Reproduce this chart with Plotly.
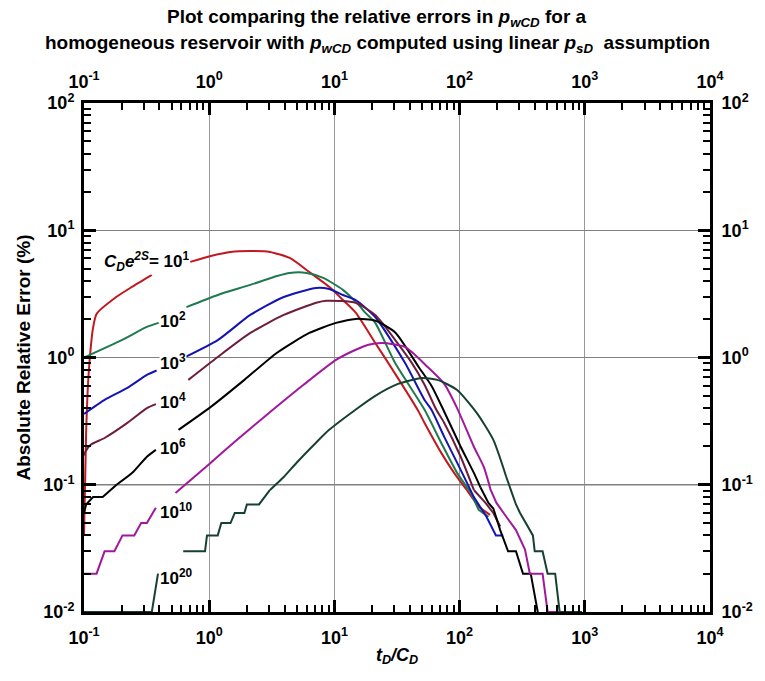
import plotly.graph_objects as go

# ---------------- data ----------------
red_x = [0.1, 0.104, 0.107, 0.111, 0.118, 0.126, 0.182, 0.243, 0.348, None,
         0.706, 1.03, 1.48, 2.13, 3.06, 4.40, 6.3, 9.08, 11.7, 14.8, 21.2, 26.9,
         46.2, 52.5, 71.4, 90.4, 114, 130, 142, 175]
red_y = [0.04, 0.26, 0.55, 0.96, 1.7, 2.2, 3.0, 3.6, 4.46, None,
         5.64, 6.28, 6.76, 6.88, 6.76, 6.06, 4.70, 3.59, 2.83, 2.25, 1.30, 0.908,
         0.388, 0.306, 0.178, 0.124, 0.091, 0.076, 0.067, 0.058]

green_x = [0.1, 0.2, 0.318, 0.395, None, 0.658, 1.17, 2.13, 3.48, 4.40, 5.98,
           8.14, 11.7, 15.6, 17.7, 21.2, 30.5, 52.5, 71.4, 95.5, 123, 142, 170]
green_y = [1.0, 1.37, 1.74, 1.87, None, 2.49, 3.10, 3.72, 4.37, 4.62, 4.62,
           4.22, 3.40, 2.59, 2.24, 1.87, 0.908, 0.388, 0.213, 0.124, 0.0864, 0.0635, 0.056]

blue_x = [0.1, 0.146, 0.222, 0.318, 0.38, None, 0.646, 1.17, 2.13, 3.94, 7.16,
          9.1, 11.7, 14.8, 21.2, 36.6, 52.5, 59.6, 75.4, 102, 130, 164, 195, 223]
blue_y = [0.36, 0.465, 0.577, 0.73, 0.79, None, 1.01, 1.37, 2.16, 2.99, 3.52,
          3.45, 3.10, 2.83, 2.08, 0.908, 0.464, 0.388, 0.238, 0.131, 0.08, 0.056, 0.04, 0.04]

maroon_x = [0.1, 0.102, 0.113, 0.146, 0.222, 0.318, 0.375, None, 0.681, 1.17,
            2.13, 3.94, 7.16, 8.6, 14.8, 21.2, 24.1, 41.5, 52.5, 65.2, 75.4, 102,
            130, 161, 186, 211]
maroon_y = [0.17, 0.18, 0.206, 0.233, 0.306, 0.40, 0.43, None, 0.667, 1.01,
            1.56, 2.16, 2.69, 2.79, 2.69, 2.16, 1.87, 0.908, 0.61, 0.388, 0.306, 0.166,
            0.091, 0.072, 0.060, 0.047]

black_x = [0.1, 0.104, 0.118, 0.141, 0.182, 0.243, 0.318, 0.375, None, 0.569,
           1.03, 1.91, 3.48, 6.3, 10.3, 14.8, 21.2, 30.5, 47.1, 59.6, 75.4, 102,
           130, 147, 170, 186, 211, 244, 282, 321, 370, 421]
black_y = [0.06, 0.07, 0.08, 0.08, 0.10, 0.124, 0.166, 0.188, None, 0.27,
           0.409, 0.667, 1.09, 1.56, 1.87, 2.01, 1.95, 1.58, 0.843, 0.60, 0.375, 0.199,
           0.124, 0.095, 0.072, 0.065, 0.044, 0.03, 0.03, 0.02, 0.02, 0.01]

magenta_x = [0.1, 0.126, 0.146, 0.175, 0.203, 0.252, 0.286, 0.318, 0.375, None,
             0.538, 1.03, 1.59, 2.75, 5.67, 10.3, 14.8, 18.7, 24.1, 36.6, 55.5,
             75.4, 95.5, 130, 156, 177, 197, 236, 282, 333, 364, 460, 505, 793]
magenta_y = [0.02, 0.02, 0.03, 0.03, 0.04, 0.04, 0.05, 0.05, 0.066, None,
             0.086, 0.149, 0.217, 0.341, 0.61, 0.957, 1.15, 1.26, 1.30, 1.21, 0.843,
             0.62, 0.40, 0.199, 0.138, 0.091, 0.072, 0.056, 0.044, 0.031, 0.02, 0.02, 0.01, 0.01]

dkgreen_x = [0.1, 0.348, 0.39, None, 0.62, 0.926, 0.96, 1.17, 1.25, 1.48, 1.6,
             1.91, 2.0, 2.5, 3.06, 3.94, 4.99, 7.16, 9.08, 15.6, 21.2, 32.2, 49.8,
             66.4, 95.5, 137, 186, 236, 282, 304, 360, 385, 398, 460, 505, 580, 630, 950]
dkgreen_y = [0.01, 0.01, 0.02, None, 0.03, 0.03, 0.04, 0.04, 0.05, 0.05, 0.06,
             0.06, 0.07, 0.07, 0.091, 0.115, 0.149, 0.215, 0.27, 0.405, 0.50, 0.62, 0.69,
             0.667, 0.556, 0.367, 0.225, 0.115, 0.07, 0.06, 0.045, 0.04, 0.03, 0.03, 0.02, 0.02, 0.01, 0.01]

series = [
    ("10^1", red_x, red_y, "#C0191F"),
    ("10^2", green_x, green_y, "#1F7A50"),
    ("10^3", blue_x, blue_y, "#1414B4"),
    ("10^4", maroon_x, maroon_y, "#6E1E3C"),
    ("10^6", black_x, black_y, "#000000"),
    ("10^10", magenta_x, magenta_y, "#A0189B"),
    ("10^20", dkgreen_x, dkgreen_y, "#16402F"),
]

# curve labels: (text, log10 x of left edge, log10 y of centre)
label_texts = ["<i>C<sub>D</sub>e<sup>2S</sup></i>= 10<sup>1</sup>", "10<sup>2</sup>",
               "10<sup>3</sup>", "10<sup>4</sup>", "10<sup>6</sup>",
               "10<sup>10</sup>", "10<sup>20</sup>"]
label_lx = [-0.851, -0.403, -0.403, -0.403, -0.403, -0.403, -0.403]
label_ly = [0.751, 0.295, -0.035, -0.341, -0.702, -1.205, -1.723]

title_lines = ["Plot comparing the relative errors in <i>p<sub>wCD</sub></i> for a",
               "homogeneous reservoir with <i>p<sub>wCD</sub></i> computed using linear "
               "<i>p<sub>sD</sub></i>  assumption"]

x_ticks = [0.1, 1, 10, 100, 1000, 10000]
x_ticktext = ["10<sup>-1</sup>", "10<sup>0</sup>", "10<sup>1</sup>",
              "10<sup>2</sup>", "10<sup>3</sup>", "10<sup>4</sup>"]
y_ticks = [0.01, 0.1, 1, 10, 100]
y_ticktext = ["10<sup>-2</sup>", "10<sup>-1</sup>", "10<sup>0</sup>",
              "10<sup>1</sup>", "10<sup>2</sup>"]

x_minor = [m * 10 ** e for e in range(-1, 4) for m in range(2, 10)]
y_minor = [m * 10 ** e for e in range(-2, 2) for m in range(2, 10)]

FONT = "Liberation Sans, Arial, sans-serif"
STEP_LEVEL = 0.085  # below this the curves are quantised (stair-steps): draw straight


def split_runs(xs, ys):
    """Split a series into runs drawn smooth (spline) or straight (stair-steps)."""
    runs = []
    seg_x, seg_y = [], []
    segments = []
    for x, y in zip(xs, ys):
        if x is None or y is None:
            if seg_x:
                segments.append((seg_x, seg_y))
            seg_x, seg_y = [], []
        else:
            seg_x.append(x)
            seg_y.append(y)
    if seg_x:
        segments.append((seg_x, seg_y))
    for sx, sy in segments:
        if len(sx) == 1:
            runs.append((sx, sy, False))
            continue
        cur_kind = None
        cur_x, cur_y = [], []
        for i in range(len(sx) - 1):
            kind = min(sy[i], sy[i + 1]) >= STEP_LEVEL
            if kind != cur_kind:
                if cur_x:
                    runs.append((cur_x, cur_y, cur_kind))
                cur_x, cur_y = [sx[i]], [sy[i]]
                cur_kind = kind
            cur_x.append(sx[i + 1])
            cur_y.append(sy[i + 1])
        runs.append((cur_x, cur_y, cur_kind))
    return runs


fig = go.Figure()
for name, xs, ys, col in series:
    for rx, ry, smooth in split_runs(xs, ys):
        fig.add_trace(go.Scatter(
            x=rx, y=ry, mode="lines", name=name,
            line=dict(color=col, width=2,
                      shape="spline" if smooth else "linear",
                      smoothing=0.6 if smooth else None),
            showlegend=False, hoverinfo="skip"))
# dummy trace to activate the mirrored axes
fig.add_trace(go.Scatter(x=[None], y=[None], xaxis="x2", yaxis="y2",
                         showlegend=False, hoverinfo="skip"))

fig.add_hline(y=0.1, line=dict(color="black", width=1), layer="below")

for t, lx, ly in zip(label_texts, label_lx, label_ly):
    fig.add_annotation(x=lx, y=ly, xref="x", yref="y", text="<b>" + t + "</b>",
                       showarrow=False, xanchor="left", yanchor="middle",
                       font=dict(family=FONT, size=17, color="black"),
                       bgcolor="white", borderpad=0)

# two-line title, centred on the page
for line, ypos in zip(title_lines, [1.167, 1.116]):
    fig.add_annotation(x=0.4686, y=ypos, xref="paper", yref="paper",
                       text="<b>" + line + "</b>", showarrow=False,
                       xanchor="center", yanchor="middle",
                       font=dict(family=FONT, size=19, color="black"))

common = dict(type="log", showline=True, linewidth=3, linecolor="black",
              ticks="inside", ticklen=12, tickwidth=2.5, tickcolor="black",
              zeroline=False,
              tickfont=dict(family=FONT, size=18, color="black"))

xmin = dict(ticks="inside", ticklen=7, tickwidth=2, tickcolor="black",
            tickmode="array", tickvals=x_minor, showgrid=False)
ymin = dict(ticks="inside", ticklen=7, tickwidth=2, tickcolor="black",
            tickmode="array", tickvals=y_minor, showgrid=False)

xt = ["<b>" + t + "</b>" for t in x_ticktext]
yt = ["<b>" + t + "</b>" for t in y_ticktext]

fig.update_layout(
    width=765, height=681,
    margin=dict(l=84, r=45, t=103, b=69),
    paper_bgcolor="white", plot_bgcolor="white",
    font=dict(family=FONT, color="black"),
    xaxis=dict(range=[-1, 4], tickmode="array", tickvals=x_ticks, ticktext=xt,
               showgrid=True, gridcolor="#999999", gridwidth=1, minor=xmin,
               ticklabelstandoff=7,
               title=dict(text="<b><i>t<sub>D</sub>/C<sub>D</sub></i></b>",
                          font=dict(family=FONT, size=18), standoff=2),
               **common),
    xaxis2=dict(range=[-1, 4], overlaying="x", side="top", anchor="y",
                tickmode="array", tickvals=x_ticks, ticktext=xt,
                ticklabelstandoff=5,
                showgrid=False, minor=xmin, **common),
    yaxis=dict(range=[-2, 2], tickmode="array", tickvals=y_ticks, ticktext=yt,
               showgrid=True, gridcolor="#808080", gridwidth=1, minor=ymin,
               ticklabelstandoff=3,
               title=dict(text="<b>Absolute Relative Error (%)</b>",
                          font=dict(family=FONT, size=19), standoff=8),
               **common),
    yaxis2=dict(range=[-2, 2], overlaying="y", side="right", anchor="x",
                tickmode="array", tickvals=y_ticks, ticktext=yt,
                ticklabelstandoff=5,
                showgrid=False, minor=ymin, **common),
)

fig.write_html("out.html")
